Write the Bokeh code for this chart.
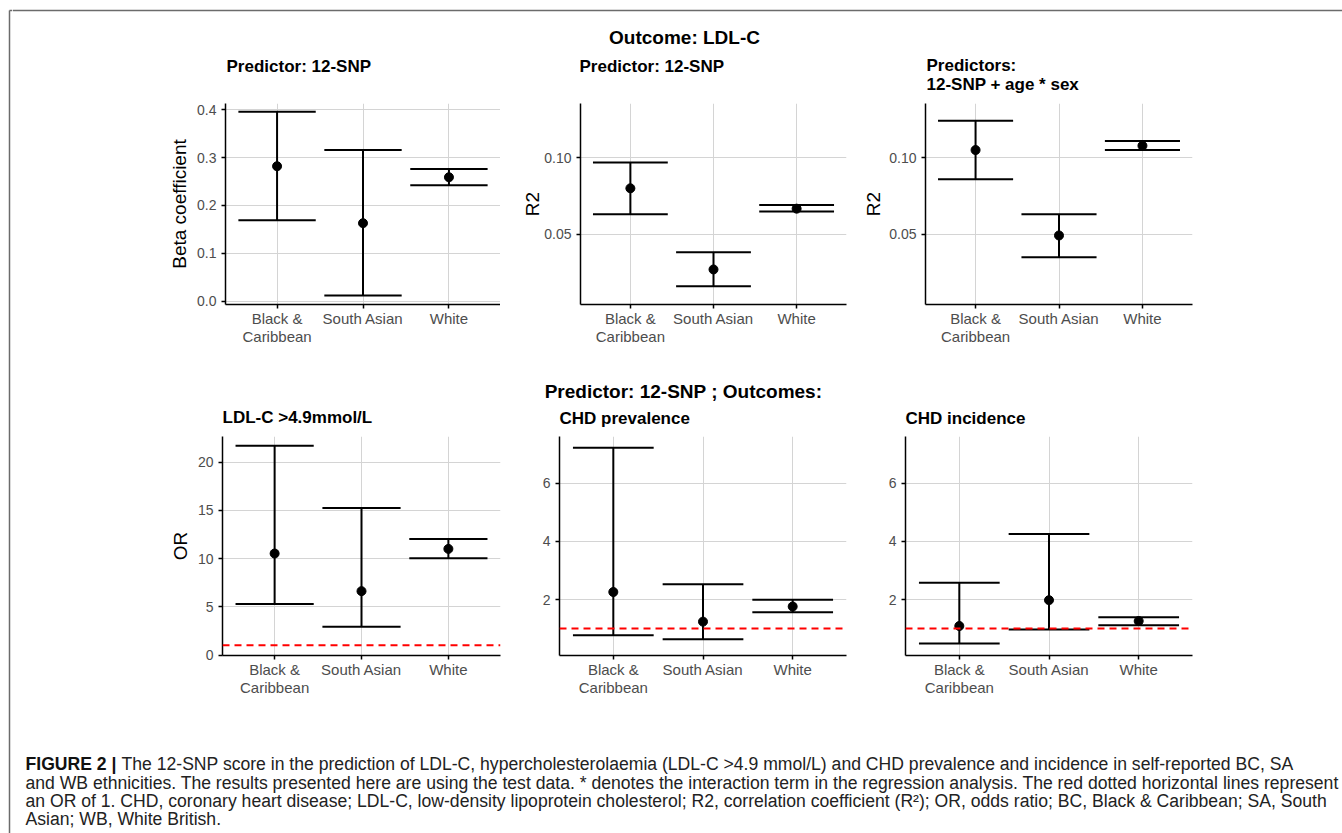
from bokeh.plotting import figure
from bokeh.layouts import column, row
from bokeh.models import Range1d, FactorRange, Span, ColumnDataSource, FixedTicker, NumeralTickFormatter
from bokeh.transform import dodge
from bokeh.core.properties import value
from bokeh.embed import file_html
from bokeh.resources import INLINE

# ---------------- data ----------------
groups = ["Black &\nCaribbean", "South Asian", "White"]

beta_mean = [0.282, 0.163, 0.259]
beta_lower = [0.169, 0.012, 0.242]
beta_upper = [0.396, 0.316, 0.276]

r2_mean = [0.080, 0.027, 0.0667]
r2_lower = [0.063, 0.0161, 0.0648]
r2_upper = [0.0969, 0.0383, 0.0691]

r2adj_mean = [0.105, 0.0492, 0.1078]
r2adj_lower = [0.0859, 0.035, 0.105]
r2adj_upper = [0.1241, 0.063, 0.1109]

or_ldl_mean = [10.52, 6.62, 11.0]
or_ldl_lower = [5.28, 2.93, 10.03]
or_ldl_upper = [21.7, 15.24, 12.03]

or_prev_mean = [2.26, 1.24, 1.76]
or_prev_lower = [0.77, 0.635, 1.56]
or_prev_upper = [7.23, 2.53, 1.99]

or_inc_mean = [1.09, 1.98, 1.26]
or_inc_lower = [0.487, 0.97, 1.12]
or_inc_upper = [2.58, 4.26, 1.39]

or_reference = 1.0

beta_ticks = [0.0, 0.1, 0.2, 0.3, 0.4]
r2_ticks = [0.05, 0.10]
or_ldl_ticks = [0, 5, 10, 15, 20]
or_chd_ticks = [2, 4, 6]

caption_lines = [
    "The 12-SNP score in the prediction of LDL-C, hypercholesterolaemia (LDL-C >4.9 mmol/L) and CHD prevalence and incidence in self-reported BC, SA",
    "and WB ethnicities. The results presented here are using the test data. * denotes the interaction term in the regression analysis. The red dotted horizontal lines represent",
    "an OR of 1. CHD, coronary heart disease; LDL-C, low-density lipoprotein cholesterol; R2, correlation coefficient (R\u00b2); OR, odds ratio; BC, Black & Caribbean; SA, South",
    "Asian; WB, White British.",
]

FONT = "Liberation Sans"
BORDER = "#6b6b6b"
GRID = "#d4d4d4"


def panel(width, height, mbl, mbr, mbt, mbb, yr, ticks, fmt, ylabel, lab_standoff,
          mean, lower, upper, ref=None):
    p = figure(width=width, height=height,
               x_range=FactorRange(*groups, range_padding=0.1, range_padding_units="absolute"),
               y_range=Range1d(*yr), output_backend="svg", toolbar_location=None,
               min_border_left=mbl, min_border_right=mbr, min_border_top=mbt, min_border_bottom=mbb)
    p.outline_line_color = None
    src = ColumnDataSource(dict(g=groups, mean=mean, lower=lower, upper=upper))
    p.segment(x0="g", x1="g", y0="lower", y1="upper", source=src, line_color="black", line_width=2)
    for col in ("lower", "upper"):
        p.segment(x0=dodge("g", -0.45, range=p.x_range), x1=dodge("g", 0.45, range=p.x_range),
                  y0=col, y1=col, source=src, line_color="black", line_width=2)
    p.scatter(x="g", y="mean", source=src, size=9, color="black")
    if ref is not None:
        p.add_layout(Span(location=ref, dimension="width", line_color="#ff0000",
                          line_width=2, line_dash="7 5"))
    for ax in (p.xaxis, p.yaxis):
        ax.axis_line_color = "black"
        ax.axis_line_width = 1.5
        ax.major_tick_line_color = "black"
        ax.major_tick_line_width = 1.5
        ax.major_tick_out = 4
        ax.major_tick_in = 0
        ax.minor_tick_line_color = None
        ax.major_label_text_font = FONT
        ax.major_label_text_color = "#4d4d4d"
    p.xaxis.major_label_text_font_size = "15px"
    p.yaxis.major_label_text_font_size = "14px"
    p.xaxis.major_label_standoff = 1
    p.xaxis.major_label_text_line_height = 1.1
    p.yaxis.major_label_standoff = 5
    p.yaxis.ticker = FixedTicker(ticks=ticks)
    p.yaxis.formatter = NumeralTickFormatter(format=fmt)
    if ylabel:
        p.yaxis.axis_label = ylabel
        p.yaxis.axis_label_text_font = FONT
        p.yaxis.axis_label_text_font_style = "normal"
        p.yaxis.axis_label_text_font_size = "19px"
        p.yaxis.axis_label_text_color = "black"
        p.yaxis.axis_label_standoff = lab_standoff
    p.xgrid.grid_line_color = GRID
    p.ygrid.grid_line_color = GRID
    p.xgrid.grid_line_width = 1
    p.ygrid.grid_line_width = 1
    return p


def strip(w, h, x0=0):
    s = figure(width=w, height=h, x_range=Range1d(x0, x0 + w), y_range=Range1d(h, 0),
               output_backend="svg", toolbar_location=None, x_axis_type=None, y_axis_type=None,
               min_border=0)
    s.min_border_left = s.min_border_right = s.min_border_top = s.min_border_bottom = 0
    s.outline_line_color = None
    s.grid.visible = False
    return s


def label(s, x, y, txt, size, bold=True, align="left", color="black"):
    s.text(x=[x], y=[y], text=[txt], text_font=value(FONT), text_font_size=size,
           text_font_style="bold" if bold else "normal", text_align=align,
           text_baseline="middle", text_color=color)


# ---------------- left border (full height) ----------------
left = strip(12, 833)
left.segment(x0=[9], y0=[10], x1=[9], y1=[833], line_color=BORDER, line_width=1.5)
left.segment(x0=[9], y0=[10], x1=[12], y1=[10], line_color=BORDER, line_width=1.5)

# ---------------- top strip ----------------
top = strip(1330, 95, x0=12)
top.segment(x0=[12], y0=[10], x1=[1342], y1=[10], line_color=BORDER, line_width=1.5)
label(top, 684, 37, "Outcome: LDL-C", "19px", align="center")
label(top, 226, 66, "Predictor: 12-SNP", "17px")
label(top, 579, 66, "Predictor: 12-SNP", "17px")
label(top, 926, 65, "Predictors:", "17px")
label(top, 926, 84, "12-SNP + age * sex", "17px")

# ---------------- top row ----------------
H1 = 260
p1 = panel(488, H1, 213, 0, 8, 51, (-0.0069, 0.413), beta_ticks, "0.0", "Beta coefficient", 4,
           beta_mean, beta_lower, beta_upper)
p2 = panel(351, H1, 80, 5, 8, 51, (0.0041, 0.1354), r2_ticks, "0.00", "R2", -2,
           r2_mean, r2_lower, r2_upper)
p3 = panel(491, H1, 74, 150, 8, 51, (0.0041, 0.1354), r2_ticks, "0.00", "R2", 2,
           r2adj_mean, r2adj_lower, r2adj_upper)

# ---------------- middle strip ----------------
mid = strip(1330, 75, x0=12)
label(mid, 683, 36, "Predictor: 12-SNP ; Outcomes:", "19px", align="center")
label(mid, 222, 62, "LDL-C >4.9mmol/L", "17px")
label(mid, 559, 63, "CHD prevalence", "17px")
label(mid, 905, 63, "CHD incidence", "17px")

# ---------------- bottom row ----------------
H2 = 270
p4 = panel(508, H2, 210, 20, 6, 45, (-0.05, 22.65), or_ldl_ticks, "0", "OR", 4,
           or_ldl_mean, or_ldl_lower, or_ldl_upper, ref=or_reference)
p5 = panel(350, H2, 39, 24, 6, 45, (0.074, 7.616), or_chd_ticks, "0", None, 0,
           or_prev_mean, or_prev_lower, or_prev_upper, ref=or_reference)
p6 = panel(472, H2, 35, 150, 6, 45, (0.074, 7.616), or_chd_ticks, "0", None, 0,
           or_inc_mean, or_inc_lower, or_inc_upper, ref=or_reference)

# ---------------- caption ----------------
cap = strip(1330, 133, x0=12)
label(cap, 25, 63, "FIGURE 2 |", "17.6px", bold=True, color="#111111")
cap_y = [63, 82, 100, 118]
cap_x = [121, 25, 25, 25]
for x, y, t in zip(cap_x, cap_y, caption_lines):
    label(cap, x, y, t, "17.6px", bold=False, color="#222222")

layout = row(
    left,
    column(
        top,
        row(p1, p2, p3),
        mid,
        row(p4, p5, p6),
        cap,
    ),
)

open("out.html", "w").write(file_html(layout, INLINE))
